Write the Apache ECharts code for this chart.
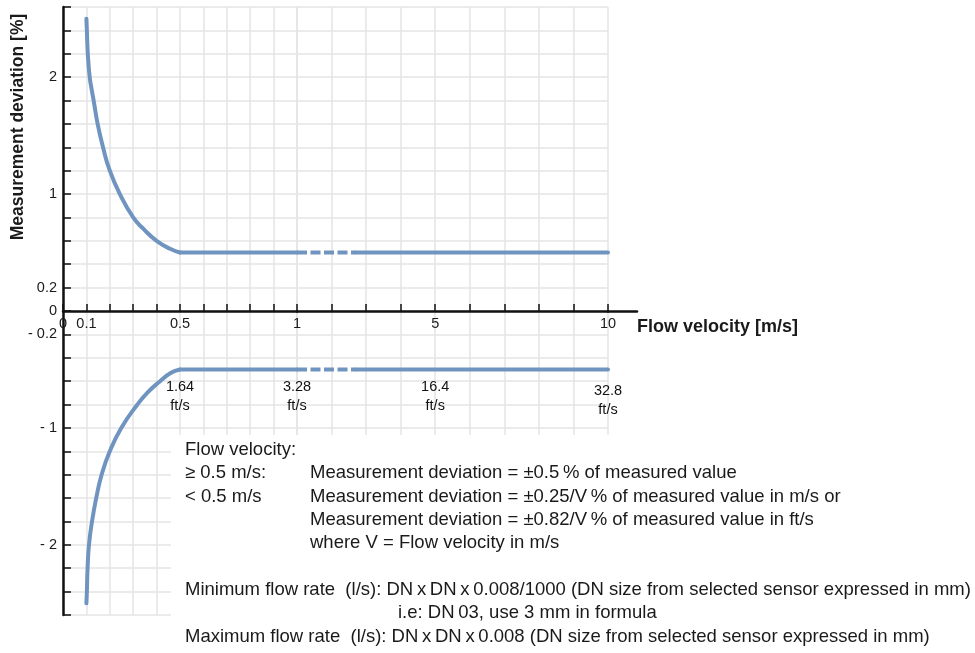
<!DOCTYPE html>
<html>
<head>
<meta charset="utf-8">
<script src="https://cdn.jsdelivr.net/npm/echarts@6/dist/echarts.min.js"></script>
<style>
  html, body { margin: 0; padding: 0; background: #fff; }
  #chart { width: 975px; height: 653px; }
</style>
</head>
<body>
<div id="chart"></div>
<script>
// ---- data ----
const velocityUpper  = [0.1, 0.102, 0.106, 0.114, 0.122, 0.131, 0.148, 0.171, 0.2, 0.243, 0.3, 0.345, 0.4, 0.46, 0.5];
const deviationUpper = [2.5, 2.4, 2.2, 2.0, 1.9, 1.8, 1.6, 1.4, 1.2, 1.0, 0.8, 0.7, 0.6, 0.53, 0.5];
const velocityLower  = [0.1, 0.102, 0.105, 0.111, 0.124, 0.142, 0.165, 0.2, 0.249, 0.318, 0.36, 0.415, 0.46, 0.5];
const deviationLower = [-2.5, -2.4, -2.2, -2.0, -1.8, -1.6, -1.4, -1.2, -1.0, -0.8, -0.7, -0.6, -0.53, -0.5];
const plateauVelocity = [0.5, 1, 2.7, 10];
const plateauUpper    = [0.5, 0.5, 0.5, 0.5];
const plateauLower    = [-0.5, -0.5, -0.5, -0.5];
const xLabelsLeft  = [0, 0.1, 0.5, 1];
const xLabelsRight = [5, 10];
const yLabels = [2, 1, 0.2, 0, -0.2, -1, -2];
const ftVelocity = [0.5, 1, 5, 10];
const ftLabels   = ['1.64', '3.28', '16.4', '32.8'];

// ---- styles ----
const FONT = "'Liberation Sans', Arial, Helvetica, sans-serif";
const LINE = '#6f94c0';
const GRIDC = '#e4e4e4';
const TXT = '#1a1a1a';
const BODY = '18.5px ' + FONT;

const pairs = (xs, ys) => xs.map((x, i) => [x, ys[i]]);
const near = (v, list) => list.some(l => Math.abs(l - v) < 1e-6);

const chart = echarts.init(document.getElementById('chart'), null, { renderer: 'canvas' });

const yCommon = { type: 'value', min: -2.6, max: 2.6, interval: 0.2 };
const lineSeries = (xi, data, dashed, smooth) => ({
  type: 'line', xAxisIndex: xi, yAxisIndex: xi, data: data, symbol: 'none',
  smooth: smooth || false, silent: true, animation: false,
  lineStyle: { color: LINE, width: 4, cap: dashed ? 'butt' : 'round', join: 'round', type: dashed ? [10, 3.5] : 'solid' },
  z: 5
});

const upperLeft = pairs(plateauVelocity, plateauUpper).filter(p => p[0] <= 1);
const lowerLeft = pairs(plateauVelocity, plateauLower).filter(p => p[0] <= 1);
const upperR = pairs(plateauVelocity, plateauUpper).filter(p => p[0] >= 1);
const lowerR = pairs(plateauVelocity, plateauLower).filter(p => p[0] >= 1);

const ftData = ftVelocity.map((v, i) => ({ name: ftLabels[i], value: [v, i === 3 ? -0.765 : -0.735] }));
const ftLabel = { show: true, position: 'inside', formatter: p => p.name + '\nft/s',
  fontFamily: FONT, fontSize: 14.5, color: '#111', opacity: 1, lineHeight: 19, align: 'center',
  textBorderWidth: 0 };

const xAxisBase = (grid) => ({
  gridIndex: grid, type: 'value', position: 'bottom', offset: -304,
  axisLine: { onZero: false, lineStyle: { color: '#111', width: 2.5 } },
  axisTick: { inside: true, length: 7, lineStyle: { color: '#111', width: 1.5 } },
  splitLine: { show: true, lineStyle: { color: GRIDC, width: 1.5 } }
});

const option = {
  animation: false,
  backgroundColor: '#fff',
  grid: [
    { left: 63, top: 7, width: 234, height: 608 },
    { left: 297, top: 7, width: 311, height: 608 },
    { left: 608, top: 7, width: 29, height: 608 }
  ],
  xAxis: [
    Object.assign(xAxisBase(0), {
      min: 0, max: 1, interval: 0.1,
      axisLabel: { margin: 5, fontFamily: FONT, fontSize: 14.5, color: TXT,
        formatter: v => near(v, xLabelsLeft) ? String(Math.round(v * 10) / 10) : '' }
    }),
    Object.assign(xAxisBase(1), {
      min: 1, max: 10, interval: 1,
      axisLabel: { margin: 5, fontFamily: FONT, fontSize: 14.5, color: TXT,
        formatter: v => near(v, xLabelsRight) ? String(Math.round(v)) : '' }
    }),
    Object.assign(xAxisBase(2), {
      min: 0, max: 1,
      axisTick: { show: false }, axisLabel: { show: false }, splitLine: { show: false }
    })
  ],
  yAxis: [
    Object.assign({}, yCommon, {
      gridIndex: 0, position: 'left',
      axisLine: { show: true, onZero: false, lineStyle: { color: '#111', width: 2.5 } },
      axisTick: { show: true, inside: true, length: 8, lineStyle: { color: '#111', width: 1.5 } },
      axisLabel: { margin: 6, fontFamily: FONT, fontSize: 14.5, color: TXT,
        formatter: v => {
          const r = Math.round(v * 10) / 10;
          if (!near(r, yLabels)) return '';
          return r < 0 ? '- ' + Math.abs(r) : String(r);
        } },
      splitLine: { show: true, lineStyle: { color: GRIDC, width: 1.5 } }
    }),
    Object.assign({}, yCommon, {
      gridIndex: 1,
      axisLine: { show: false }, axisTick: { show: false }, axisLabel: { show: false },
      splitLine: { show: true, lineStyle: { color: GRIDC, width: 1.5 } }
    }),
    Object.assign({}, yCommon, {
      gridIndex: 2, show: false
    })
  ],
  series: [
    lineSeries(0, pairs(velocityUpper, deviationUpper), false, 0.5),
    lineSeries(0, pairs(velocityLower, deviationLower), false, 0.5),
    lineSeries(0, upperLeft, false),
    lineSeries(0, lowerLeft, false),
    lineSeries(1, upperR.slice(0, 2), true),
    lineSeries(1, upperR.slice(1), false),
    lineSeries(1, lowerR.slice(0, 2), true),
    lineSeries(1, lowerR.slice(1), false),
    {
      type: 'scatter', xAxisIndex: 0, yAxisIndex: 0, symbolSize: 0, silent: true, clip: false,
      itemStyle: { opacity: 1 }, data: ftData.slice(0, 1), label: ftLabel, z: 10
    },
    {
      type: 'scatter', xAxisIndex: 1, yAxisIndex: 1, symbolSize: 0, silent: true, clip: false,
      itemStyle: { opacity: 1 }, data: ftData.slice(1), label: ftLabel, z: 10
    }
  ],
  graphic: [
    { type: 'rect', z: 50, shape: { x: 171, y: 435, width: 804, height: 218 }, style: { fill: '#fff' } },
    { type: 'text', z: 60, x: 18, y: 127, rotation: Math.PI / 2,
      style: { text: 'Measurement deviation [%]', font: "bold 17.5px " + FONT, fill: TXT, align: 'center', verticalAlign: 'middle' } },
    { type: 'text', z: 60, x: 637, y: 327,
      style: { text: 'Flow velocity [m/s]', font: "bold 18px " + FONT, fill: TXT, align: 'left', verticalAlign: 'middle' } },
    { type: 'text', z: 60, x: 185, y: 450, style: { text: 'Flow velocity:', font: BODY, fill: TXT, verticalAlign: 'middle' } },
    { type: 'text', z: 60, x: 185, y: 473, style: { text: '\u2265 0.5 m/s:', font: BODY, fill: TXT, verticalAlign: 'middle' } },
    { type: 'text', z: 60, x: 310, y: 473, style: { text: 'Measurement deviation = \u00b10.5\u2009% of measured value', font: BODY, fill: TXT, verticalAlign: 'middle' } },
    { type: 'text', z: 60, x: 185, y: 497, style: { text: '< 0.5 m/s', font: BODY, fill: TXT, verticalAlign: 'middle' } },
    { type: 'text', z: 60, x: 310, y: 497, style: { text: 'Measurement deviation = \u00b10.25/V\u2009% of measured value in m/s or', font: BODY, fill: TXT, verticalAlign: 'middle' } },
    { type: 'text', z: 60, x: 310, y: 520, style: { text: 'Measurement deviation = \u00b10.82/V\u2009% of measured value in ft/s', font: BODY, fill: TXT, verticalAlign: 'middle' } },
    { type: 'text', z: 60, x: 310, y: 543, style: { text: 'where V = Flow velocity in m/s', font: BODY, fill: TXT, verticalAlign: 'middle' } },
    { type: 'text', z: 60, x: 185, y: 590, style: { text: 'Minimum flow rate  (l/s): DN\u2009x\u2009DN\u2009x\u20090.008/1000 (DN size from selected sensor expressed in mm)', font: BODY, fill: TXT, verticalAlign: 'middle' } },
    { type: 'text', z: 60, x: 398, y: 613, style: { text: 'i.e: DN\u200903, use 3 mm in formula', font: BODY, fill: TXT, verticalAlign: 'middle' } },
    { type: 'text', z: 60, x: 185, y: 637, style: { text: 'Maximum flow rate  (l/s): DN\u2009x\u2009DN\u2009x\u20090.008 (DN size from selected sensor expressed in mm)', font: BODY, fill: TXT, verticalAlign: 'middle' } }
  ]
};
chart.setOption(option);
</script>
</body>
</html>
